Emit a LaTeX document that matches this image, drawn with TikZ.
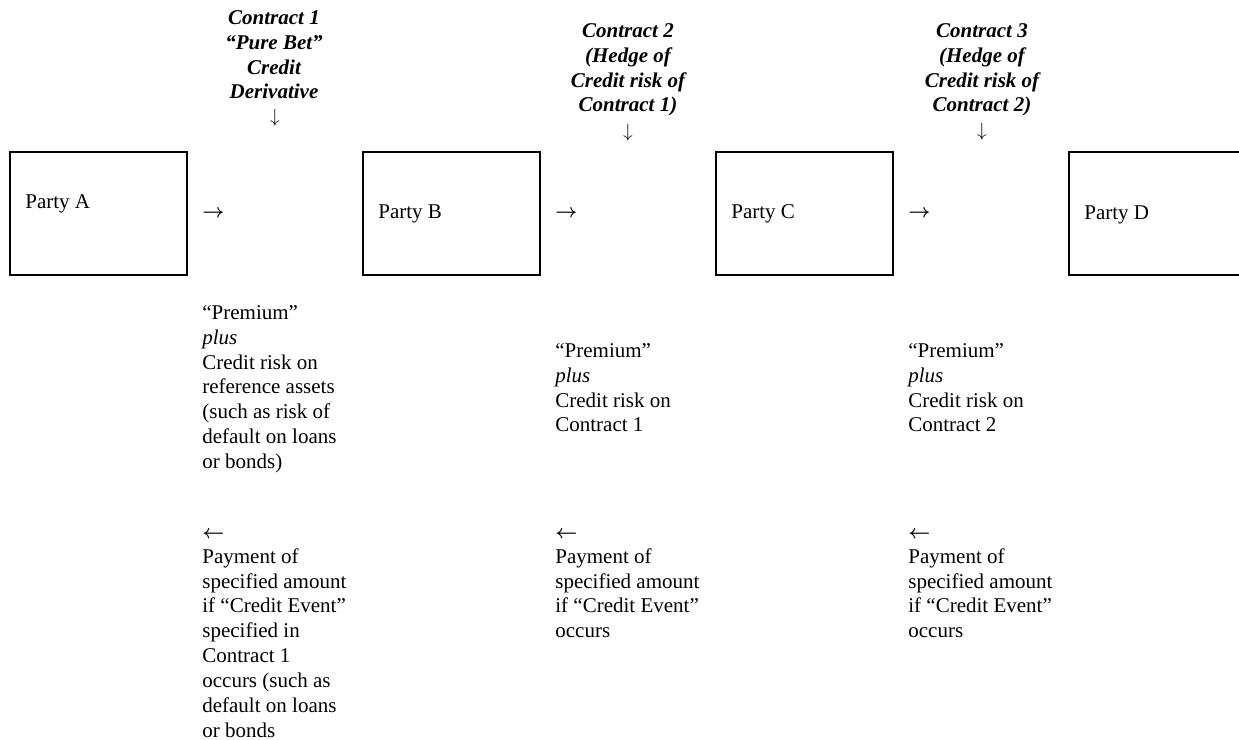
\documentclass[tikz,border=0pt]{standalone}
\usepackage{amsmath}
\usepackage{fontspec}
\setmainfont{Liberation Serif}
\begin{document}
\begin{tikzpicture}[x=0.5714pt,y=-0.5714pt,
    party/.style={draw,line width=1.14pt,minimum width=101.14pt,minimum height=70.28pt,inner sep=0pt},
    txt/.style={inner sep=0pt,font=\fontsize{12}{14.2}\selectfont},
    body/.style={txt,anchor=north west,align=left},
    head/.style={inner sep=0pt,anchor=north,align=center,font=\fontsize{12}{14.2}\selectfont\bfseries\itshape},
    arr/.style={inner sep=0pt,font=\fontsize{10.5}{12}\selectfont}]
  \useasboundingbox (0,0) rectangle (1239,740);
  % the four parties
  \node[party] (pA) at (98.5,213.5) {};
  \node[party] (pB) at (451.5,213.5) {};
  \node[party] (pC) at (804.5,213.5) {};
  \node[party] (pD) at (1157.5,213.5) {};
  \node[txt,anchor=west] (lA) at (25,204) {Party A};
  \node[txt,anchor=west] (lB) at (378,214) {Party B};
  \node[txt,anchor=west] (lC) at (731,214) {Party C};
  \node[txt,anchor=west] (lD) at (1084,215) {Party D};
  % contract headings
  \node[head] (hA) at (274,6.6) {\strut Contract 1\\``Pure Bet''\\Credit\\Derivative};
  \node[head] (hB) at (628,19.6) {\strut Contract 2\\(Hedge of\\Credit risk of\\Contract 1)};
  \node[head] (hC) at (982,19.6) {\strut Contract 3\\(Hedge of\\Credit risk of\\Contract 2)};
  \node[arr] (dA) at (275,118) {$\downarrow$};
  \node[arr] (dB) at (628,133) {$\downarrow$};
  \node[arr] (dC) at (982,132) {$\downarrow$};
  \node[arr,anchor=west] (rA) at (202,214) {$\boldsymbol{\rightarrow}$};
  \node[arr,anchor=west] (rB) at (555,214) {$\boldsymbol{\rightarrow}$};
  \node[arr,anchor=west] (rC) at (908,214) {$\boldsymbol{\rightarrow}$};
  % what passes each way
  \node[body] (uA) at (202,301.6) {\strut``Premium''\\\textit{plus}\\Credit risk on\\reference assets\\(such as risk of\\default on loans\\or bonds)};
  \node[body] (uB) at (555,339.6) {\strut``Premium''\\\textit{plus}\\Credit risk on\\Contract 1};
  \node[body] (uC) at (908,339.6) {\strut``Premium''\\\textit{plus}\\Credit risk on\\Contract 2};
  \node[body] (wA) at (202,520.6) {\strut{\fontsize{10.5}{12}\selectfont$\boldsymbol{\leftarrow}$}\\Payment of\\specified amount\\if ``Credit Event''\\specified in\\Contract 1\\occurs (such as\\default on loans\\or bonds};
  \node[body] (wB) at (555,520.6) {\strut{\fontsize{10.5}{12}\selectfont$\boldsymbol{\leftarrow}$}\\Payment of\\specified amount\\if ``Credit Event''\\occurs};
  \node[body] (wC) at (908,520.6) {\strut{\fontsize{10.5}{12}\selectfont$\boldsymbol{\leftarrow}$}\\Payment of\\specified amount\\if ``Credit Event''\\occurs};
\end{tikzpicture}
\end{document}
